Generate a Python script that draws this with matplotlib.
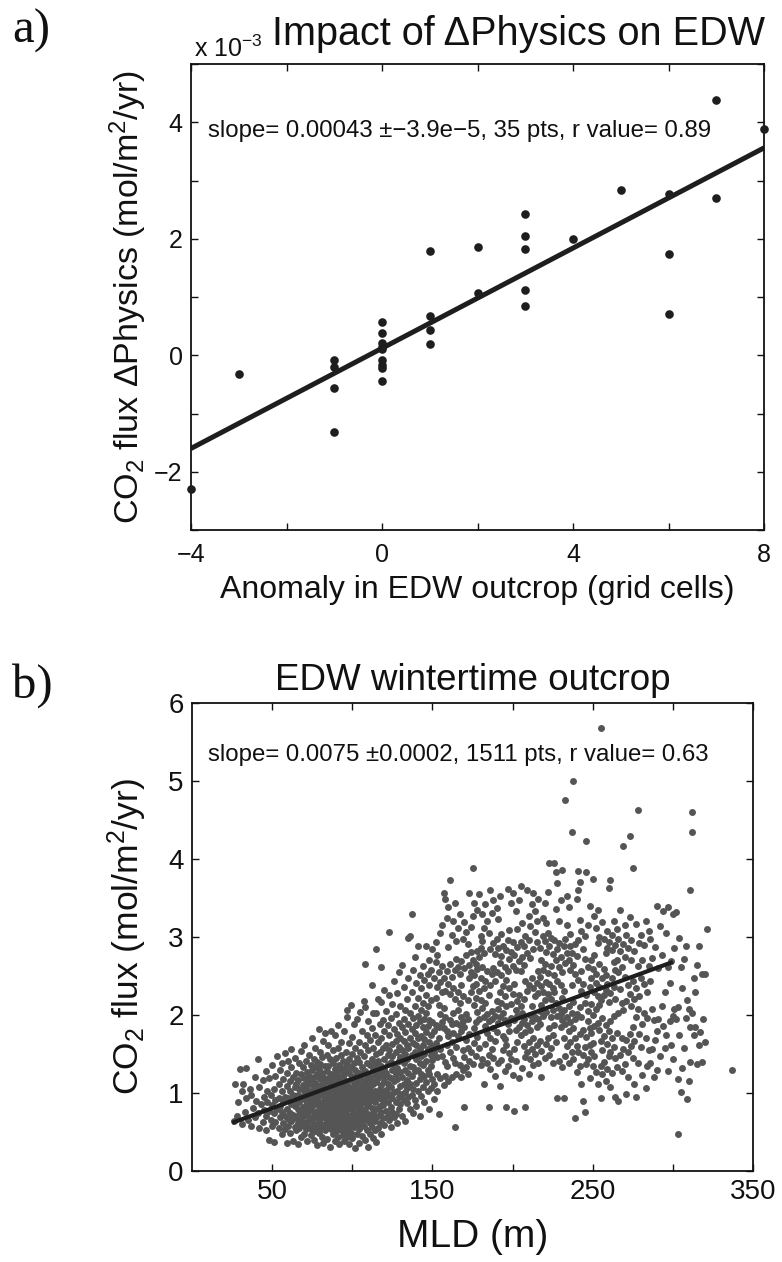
import numpy as np
import matplotlib
matplotlib.use("Agg")
import matplotlib.pyplot as plt

plt.rcParams['font.family'] = ['Liberation Sans', 'DejaVu Sans']
plt.rcParams['mathtext.fontset'] = 'custom'
plt.rcParams['mathtext.rm'] = 'Liberation Sans'
plt.rcParams['mathtext.it'] = 'Liberation Sans'
plt.rcParams['axes.unicode_minus'] = True

# ---------------- Panel a data (flux in units of 1e-3 mol/m2/yr) ----------------
outcrop_anom = [-4, -3,
                -1, -1, -1, -1,
                0, 0, 0, 0, 0, 0, 0, 0, 0,
                1, 1, 1, 1,
                2, 2,
                3, 3, 3, 3, 3,
                4, 5,
                6, 6, 6,
                7, 7,
                8]
phys_flux_e3 = [-2.30, -0.32,
                -0.09, -0.21, -0.57, -1.31,
                0.57, 0.38, 0.21, 0.15, 0.10, -0.09, -0.16, -0.22, -0.45,
                0.67, 0.44, 0.20, 1.79,
                1.85, 1.07,
                2.43, 2.05, 1.82, 1.12, 0.85,
                2.00, 2.83,
                2.77, 1.74, 0.71,
                4.38, 2.70,
                3.89]
fit_a_slope = 0.43      # per grid cell (x1e-3)
fit_a_icpt = 0.12
fit_a_xrange = [-4, 8]
text_a = "slope= 0.00043 \u00b1\u22123.9e\u22125, 35 pts, r value= 0.89"

# ---------------- Panel b data: rows of (MLD, [CO2 flux values]) ----------------
edw_rows = [
 (26,[0.64]),(27,[1.12]),(28,[0.71]),(29,[0.88]),(30,[1.31]),(31,[0.60,1.02]),(32,[1.12]),
 (33,[0.76]),(34,[1.32,0.93]),(35,[0.66]),(36,[1.05]),(37,[0.98,0.58]),(38,[0.81]),
 (39,[1.21,0.69]),(40,[0.90]),(41,[1.44,0.74]),(42,[0.55,1.08]),(43,[0.86]),(44,[1.17,0.63]),
 (45,[0.95,0.78]),(46,[1.28,0.71,0.52]),(47,[0.89,1.02]),(48,[0.40,1.19,0.77]),(49,[0.66,0.97]),
 (50,[1.36,0.84,0.58]),(51,[0.37,1.05,0.74]),(52,[1.22,0.91,0.63]),(53,[0.79,1.48]),
 (54,[0.55,1.11,0.94]),(55,[0.69,1.29,0.83]),(56,[1.02,0.47,0.76,1.38]),(57,[0.88,0.62,1.18]),
 (58,[1.51,0.71,0.95,0.54]),(59,[0.80,1.09,0.36,1.26]),(60,[0.67,1.41,0.93,0.58]),
 (61,[1.15,0.75,1.03,0.49]),(62,[0.86,1.33,0.64,1.57]),(63,[0.39,0.97,1.21,0.72]),
 (64,[1.08,0.57,0.83,1.45]),(65,[0.68,1.26,0.91,0.52,1.12]),(66,[0.34,0.79,1.17,0.98,0.61]),
 (67,[1.38,0.73,0.88,1.05,0.55]),(68,[0.95,1.54,0.66,1.24,0.44]),(69,[0.82,1.10,0.59,1.33,0.71]),
 (70,[1.62,0.92,0.48,1.19,0.77,1.02]),(71,[0.63,1.08,0.85,1.41,0.54,0.97]),
 (72,[0.38,1.27,0.74,0.90,1.15,0.62]),(73,[1.49,0.81,1.03,0.57,1.22,0.69]),
 (74,[0.95,0.46,1.36,0.78,1.11,0.87]),(75,[1.71,0.65,1.00,0.53,1.29,0.83,1.16]),
 (76,[0.72,1.44,0.91,0.40,1.06,0.60,1.21]),(77,[0.86,1.33,0.51,0.98,0.69,1.13,1.58]),
 (78,[0.33,0.77,1.25,0.94,0.58,1.40,1.04]),(79,[1.82,0.66,1.09,0.84,1.31,0.49,0.97]),
 (80,[0.73,1.18,0.55,1.52,0.89,1.02,0.62,1.37]),(81,[0.97,0.44,1.26,0.70,1.10,0.81,1.46]),
 (82,[0.59,1.03,1.67,0.86,0.36,1.21,0.74]),(83,[1.14,0.68,0.92,1.35,0.52,1.05,0.79,1.77]),
 (84,[0.88,1.28,0.63,0.41,1.00,1.49,0.75]),(85,[1.07,0.57,1.19,0.83,1.62,0.69,0.95,1.34]),
 (86,[0.31,0.78,1.12,0.91,1.43,0.61,1.03,0.72]),(87,[1.25,0.54,0.86,1.79,0.99,0.67,1.16]),
 (88,[0.74,1.38,0.47,1.06,0.82,1.55,0.93,0.60]),(89,[1.20,0.89,0.38,1.01,1.31,0.70,0.56,1.74]),
 (90,[0.97,0.65,1.45,0.80,1.13,0.51,1.27,0.88]),(91,[0.43,1.09,0.76,1.58,0.94,0.62,1.22,1.87]),
 (92,[0.84,1.36,0.58,1.04,0.71,1.17,0.34,0.96]),(93,[1.49,0.68,1.11,0.90,0.53,1.29,0.79,1.65]),
 (94,[0.62,1.00,1.41,0.46,0.85,1.19,0.73,1.06]),(95,[1.32,0.57,0.92,1.80,0.66,1.08,0.39,1.24,0.81]),
 (96,[0.75,1.15,0.50,1.53,0.98,0.63,1.28,0.87]),(97,[2.06,0.92,0.44,1.37,0.70,1.12,0.58,1.98,1.02]),
 (98,[0.81,1.26,0.55,1.64,0.96,0.67,1.43,0.35]),(99,[1.07,0.72,2.13,0.88,1.33,0.49,1.18,0.61]),
 (100,[0.94,1.50,0.64,1.03,0.79,1.72,0.42,1.21,0.86]),(101,[1.13,0.56,0.99,1.39,0.74,1.88,0.65]),
 (102,[0.30,0.83,1.30,0.60,1.08,1.58,0.91,1.22]),(103,[1.45,0.70,1.02,0.47,1.17,0.88,1.95,0.63]),
 (104,[0.78,1.26,0.54,1.66,0.95,1.11,0.36,1.40]),(105,[1.04,0.68,1.52,0.85,2.04,0.59,1.20,0.92]),
 (106,[0.45,1.33,0.76,1.10,0.97,1.79,0.64,1.24]),(107,[0.89,1.47,0.58,1.15,0.72,2.18,1.01]),
 (108,[2.65,0.80,1.28,0.40,1.06,1.61,0.93,2.10]),(109,[1.19,0.66,1.39,0.87,1.74,0.52,1.03]),
 (110,[0.73,1.55,0.98,0.31,1.25,0.84,1.92,1.12]),(111,[1.36,0.62,1.08,0.90,1.68,0.47,1.21]),
 (112,[0.81,2.38,1.00,1.44,0.69,1.16,0.57,1.83]),(113,[1.29,0.75,1.58,0.95,0.42,1.11,2.02]),
 (114,[0.88,1.37,0.64,1.23,1.02,1.74,0.53]),(115,[2.84,1.14,0.79,1.50,0.93,2.03,0.37,1.30]),
 (116,[0.70,1.19,1.66,0.98,0.55,1.41,2.21]),(117,[1.05,0.83,1.53,1.27,0.62,1.88,0.96]),
 (118,[2.62,0.92,1.35,1.10,0.76,1.71,0.48,2.17]),(119,[1.22,0.68,1.58,1.00,1.93,0.85]),
 (120,[1.43,0.90,1.16,0.59,1.79,1.31,2.32]),(121,[0.77,1.26,1.04,1.62,0.96,2.05]),
 (122,[1.49,0.71,1.12,1.87,0.88,1.37]),(123,[3.06,0.99,1.55,1.21,0.65,1.74,2.26]),
 (124,[1.08,1.40,0.82,1.96,1.19,0.56]),(125,[1.63,0.93,1.29,2.14,0.76,1.47]),
 (126,[1.15,0.69,1.82,1.01,1.36,2.43]),(127,[0.88,1.52,1.24,2.01,0.73,1.67]),
 (128,[1.32,1.03,1.76,0.62,2.28,1.18]),(129,[1.59,0.95,1.41,1.90,0.80,2.55]),
 (130,[1.09,1.27,2.12,0.86,1.71,1.46]),(131,[2.64,0.99,1.55,1.20,1.84,0.70]),
 (132,[1.38,1.12,2.36,0.91,1.67,1.95]),(133,[1.01,1.78,1.29,0.64,2.07,1.50]),
 (134,[1.62,0.87,1.43,2.21,1.17,1.06]),(135,[2.99,1.26,1.89,0.95,1.58,2.47]),
 (136,[3.01,1.11,1.71,0.79,1.35,2.03]),(137,[3.30,1.49,0.98,2.30,1.22,1.82]),
 (138,[1.33,1.64,1.05,2.58,0.74,1.96]),(139,[0.91,1.77,2.12,1.28,1.52,2.74]),
 (140,[1.44,1.13,2.41,0.83,1.87,1.62]),(141,[1.99,1.30,1.03,2.22,1.70,2.88]),
 (142,[1.18,1.56,0.70,2.51,1.92,1.38]),(143,[2.07,1.25,1.73,0.96,2.34,1.47]),
 (144,[1.61,2.63,1.08,1.84,1.36,2.16]),(145,[1.22,1.95,1.50,0.88,2.45,1.69]),
 (146,[2.88,1.41,1.78,1.14,2.26,2.02]),(147,[1.57,1.03,2.53,1.86,1.29,2.11]),
 (148,[1.93,1.24,0.79,2.38,1.65,2.71]),(149,[1.35,2.19,1.74,1.06,2.58,1.49]),
 (150,[1.60,1.18,2.85,1.91,1.42]),(151,[1.12,1.53,2.47,1.79,0.92]),
 (152,[1.87,2.68,2.22,1.64,2.94]),(153,[1.46,1.02,2.36,2.77,1.25]),
 (154,[0.73,2.13,1.70,2.55,1.85]),(155,[2.42,1.56,3.05,1.19,2.01]),
 (156,[2.63,1.91,1.48,2.29,3.16]),(157,[3.57,2.09,1.10,2.48,1.83]),
 (158,[3.49,1.40,1.97,2.31,1.22]),(159,[1.80,2.56,1.34,3.25,1.61]),
 (160,[2.40,1.15,2.87,1.73,3.38]),(161,[3.73,1.52,2.27,1.94,2.66]),
 (162,[1.66,3.02,2.49,1.20,1.88]),(163,[1.45,2.35,1.77,3.21,2.02]),
 (164,[0.56,2.58,1.38,2.21,3.44]),(165,[1.90,2.95,1.59,1.25,2.72]),
 (166,[2.30,1.73,3.11,2.07,2.62]),(167,[1.36,2.52,1.87,3.30,2.16]),
 (168,[1.97,2.39,1.21,2.69,1.79]),(169,[1.55,2.24,1.92,2.97,1.30]),
 (170,[2.60,1.84,3.19,1.46,0.82]),(171,[1.68,2.77,1.33,3.06,2.01]),
 (172,[2.19,1.58,2.91,1.95,1.25]),(173,[3.57,2.47,1.76,2.64,1.41]),
 (174,[2.29,3.13,1.52,2.81,2.55]),(175,[3.88,2.70,1.37,2.37,3.27]),
 (176,[2.13,1.64,2.51,1.83,3.44]),(177,[1.47,2.66,2.22,1.91,2.40]),
 (178,[2.82,1.72,3.35,2.04,2.59]),(179,[3.55,2.31,1.58,2.75,1.95]),
 (180,[2.48,3.01,1.36,2.19,2.86]),(181,[2.62,3.29,2.09,1.44,2.95]),
 (182,[1.97,2.79,3.12,2.35,1.11]),(183,[2.43,3.42,1.86,1.63,2.16]),
 (184,[1.39,2.57,3.20,2.01,1.77]),(185,[0.82,2.26,1.92,3.05,1.49]),
 (186,[3.60,2.84,1.70,2.39,1.31]),(187,[1.95,3.31,1.56,2.53,2.05]),
 (188,[2.92,1.45,3.48,1.83,2.60]),(189,[1.67,2.44,1.99,2.78,1.22]),
 (190,[2.55,3.37,1.78,2.18,2.97]),(191,[2.08,1.38,2.86,3.23,1.90]),
 (192,[2.67,2.29,3.52,1.97,1.09]),(193,[3.04,2.51,1.42,2.76,2.15]),
 (194,[2.37,1.73,2.02,2.89,1.55]),(195,[1.28,2.61,1.94,2.25,1.69]),
 (196,[0.82,2.83,2.11,1.62,2.45]),(197,[3.62,1.88,2.56,1.35,2.96]),
 (198,[2.72,1.51,3.09,2.34,1.79]),(199,[1.44,3.44,1.96,2.81,2.14]),
 (200,[3.56,2.27,2.93,1.23,2.63]),(201,[0.77,1.93,2.40,1.57,2.77]),
 (202,[2.58,1.81,3.33,2.06,1.41]),(203,[2.18,1.66,2.87,3.10,1.99]),
 (204,[2.69,2.26,3.47,1.84,1.19]),(205,[3.65,1.74,2.94,2.11,2.57]),
 (206,[1.90,3.18,1.32,2.75,2.03]),(207,[2.64,1.60,2.21,1.95,2.88]),
 (208,[0.82,2.44,3.01,1.78,1.46]),(209,[3.60,2.31,1.87,2.80,1.53]),
 (210,[2.96,1.65,3.27,2.38,1.25]),(211,[1.81,3.14,2.00,2.73,1.43]),
 (212,[2.47,1.56,3.42,2.12,1.92]),(213,[3.56,1.71,2.35,1.36,2.84]),
 (214,[2.24,3.06,1.98,1.50,3.33]),(215,[1.62,2.41,2.93,1.84,3.20]),
 (216,[1.38,2.28,3.49,1.95,2.56]),(217,[1.88,2.49,1.67,2.86,2.05]),
 (218,[2.37,1.54,2.13,2.71,1.21]),(219,[3.01,1.99,2.58,3.24,2.30]),
 (220,[1.45,2.66,2.19,3.43,2.95]),(221,[2.42,3.18,1.63,2.81,2.04]),
 (222,[2.54,3.05,2.27,1.71,3.58]),(223,[3.95,1.49,2.89,2.40,1.83]),
 (224,[2.63,1.97,1.58,2.20,2.99]),(225,[1.74,2.35,2.78,1.39,2.07]),
 (226,[3.95,2.51,1.87,2.96,2.29]),(227,[3.83,2.16,3.36,1.66,2.70]),
 (228,[2.84,2.43,3.69,1.99,0.94]),(229,[2.62,3.21,2.09,2.92,1.41]),
 (230,[2.01,3.47,2.38,2.75,1.85]),(231,[3.86,2.55,1.94,2.22,1.33]),
 (232,[0.94,2.31,2.88,1.70,2.06]),(233,[4.76,1.89,2.67,1.48,2.97]),
 (234,[3.15,1.60,2.80,1.97,3.52]),(235,[1.79,3.38,2.12,1.38,2.70]),
 (236,[2.88,1.66,3.04,1.91,2.58]),(237,[4.34,2.39,1.52,2.03,2.79]),
 (238,[5.00,1.83,2.64,2.17,1.44]),(239,[0.68,2.53,1.95,2.91,1.70]),
 (240,[3.49,1.60,2.76,2.01,1.27]),(241,[3.84,3.60,2.45,1.53,2.96]),
 (242,[3.71,2.10,1.76,3.22,1.35]),(243,[2.57,1.98,3.08,2.31,1.12]),
 (244,[0.90,2.84,1.81,2.40,1.49]),(245,[0.76,2.16,2.72,1.59,3.01]),
 (246,[4.23,3.83,1.72,2.26,1.37]),(247,[1.92,1.44,3.16,2.05,2.61]),
 (248,[2.36,1.61,1.83,3.40,1.19]),(249,[1.53,2.71,2.14,1.77,2.47]),
 (250,[3.74,2.00,1.35,2.59,1.64]),(251,[2.29,1.86,3.27,1.48,2.77]),
 (252,[2.53,2.08,3.11,1.27,2.41]),(253,[2.92,2.24,1.90,3.35,1.11]),
 (254,[2.13,2.66,3.00,1.81,2.36]),(255,[5.68,0.93,1.67,2.19,1.34]),
 (256,[1.96,2.48,3.19,1.55,1.24]),(257,[2.59,1.73,2.97,2.26,1.40]),
 (258,[2.32,1.87,2.80,1.16,2.51]),(259,[2.86,3.08,1.63,2.40,1.31]),
 (260,[3.63,1.79,2.17,1.47,2.93]),(261,[3.73,2.28,1.53,1.92,1.08]),
 (262,[1.70,2.47,3.02,1.26,2.83]),(263,[2.36,1.59,2.68,1.99,3.21]),
 (264,[2.90,1.45,2.21,2.58,0.95]),(265,[2.70,1.33,3.10,1.77]),
 (266,[0.90,2.02,2.55,2.97]),(267,[2.33,1.49,2.82,3.34]),(268,[1.71,2.62,2.15,1.28]),
 (269,[4.17,2.06,2.91,1.56]),(270,[1.37,2.49,3.15,2.75]),(271,[0.99,2.18,1.68,3.02]),
 (272,[2.86,1.52,2.39,1.21]),(273,[4.29,2.27,1.76,3.26]),(274,[1.60,2.96,2.11,2.70]),
 (275,[3.88,2.43,1.85,1.45]),(276,[2.20,1.67,2.82,1.12]),(277,[0.95,2.35,3.17,1.97]),
 (278,[4.63,2.63,1.39,2.08]),(279,[1.76,2.92,2.24]),(280,[2.48,1.59,3.02]),
 (281,[1.23,2.71,1.88]),(282,[2.02,2.40,2.90]),(283,[3.21,1.71,1.06]),
 (284,[2.30,1.96,1.35]),(285,[1.55,2.63,3.08]),(286,[1.39,2.44,2.97]),
 (287,[2.73,2.08,1.57]),(288,[1.94,1.20]),(289,[2.87,1.68]),(290,[1.30,3.40,1.79]),
 (291,[2.60,1.95]),(292,[1.48,3.14]),(293,[2.12,2.77]),(294,[3.33,1.86]),
 (295,[2.29,1.58]),(296,[1.74,3.05]),(297,[1.28,2.62,3.39]),(298,[2.41,1.92]),
 (299,[2.69,1.61]),(300,[3.30,1.99,1.43]),(301,[2.86,2.08]),(302,[1.95,3.32]),
 (303,[0.47,1.18,2.10]),(304,[1.74,2.99]),(305,[1.01,2.61]),(306,[1.32,2.35]),
 (307,[2.72,1.58]),(308,[1.96,2.88]),(309,[0.92,2.19]),(310,[1.16,2.08]),
 (311,[3.60,1.85,1.40]),(312,[4.60,4.35,2.02]),(313,[1.74,2.48]),(314,[1.85,2.29]),
 (315,[1.37,2.64]),(316,[2.88,1.62]),(317,[1.78]),(318,[1.40,2.52]),(319,[1.95]),
 (320,[2.53,1.66]),(321,[3.10]),(337,[1.29]),
]
fit_b_slope = 0.0075
fit_b_icpt = 0.43
fit_b_xrange = [25, 300]
text_b = "slope= 0.0075 \u00b10.0002, 1511 pts, r value= 0.63"

mld = np.array([m for m, ys in edw_rows for _ in ys], dtype=float)
co2_flux = np.array([y for m, ys in edw_rows for y in ys], dtype=float)

W, H = 782, 1262
fig = plt.figure(figsize=(W / 100, H / 100), dpi=100)

def frac(l, t, r, b):
    return [l / W, 1 - b / H, (r - l) / W, (b - t) / H]

def style_axes(ax, lab_size):
    for s in ax.spines.values():
        s.set_linewidth(1.3)
        s.set_color('#111111')
    ax.tick_params(direction='in', top=True, right=True, length=5, width=1.0,
                   labelsize=lab_size, colors='#111111', pad=6)

# ---------- panel a ----------
axA = fig.add_axes(frac(191, 64, 764, 530))
axA.plot(outcrop_anom, phys_flux_e3, 'o', color='#1e1e1e', markersize=6.2,
         markeredgewidth=0, clip_on=False, zorder=3)
xa = np.array(fit_a_xrange, dtype=float)
axA.plot(xa, fit_a_icpt + fit_a_slope * xa, '-', color='#1e1e1e', lw=3.6,
         solid_capstyle='butt', zorder=2)
axA.set_xlim(-4, 8)
axA.set_ylim(-3, 5)
axA.set_xticks(np.arange(-4, 9, 2))
axA.set_xticklabels(['\u22124', '', '0', '', '4', '', '8'])
axA.set_yticks(np.arange(-3, 6, 1))
axA.set_yticklabels(['', '\u22122', '', '0', '', '2', '', '4', ''])
style_axes(axA, 18)
axA.tick_params(axis='x', pad=9)
axA.text(-3.64, 3.85, text_a, fontsize=17.3, va='center', ha='left', color='#111111')
axA.text(0.005, 1.004, 'x 10$^{\\mathregular{-3}}$', transform=axA.transAxes,
         fontsize=18, ha='left', va='bottom', color='#111111')
fig.text(518 / W, 1 - 45 / H, 'Impact of \u0394Physics on EDW',
         fontsize=28.5, ha='center', va='baseline', color='#111111')
axA.text(-0.110, 0.5, 'CO$_{\\mathregular{2}}$ flux \u0394Physics (mol/m$^{\\mathregular{2}}$/yr)',
         transform=axA.transAxes, rotation=90, fontsize=24.5, ha='center', va='center',
         color='#111111')
axA.text(0.5, -0.128, 'Anomaly in EDW outcrop (grid cells)', transform=axA.transAxes,
         fontsize=23, ha='center', va='center', color='#111111')
fig.text(12 / W, 1 - 43 / H, 'a)', family=['Liberation Serif'], fontsize=35,
         ha='left', va='baseline', color='#111111')

# ---------- panel b ----------
axB = fig.add_axes(frac(192, 703, 753, 1171))
axB.plot(mld, co2_flux, 'o', color='#555555', markersize=5.0, markeredgewidth=0,
         zorder=2)
xb = np.array(fit_b_xrange, dtype=float)
axB.plot(xb, fit_b_icpt + fit_b_slope * xb, '-', color='#1e1e1e', lw=3.0,
         solid_capstyle='butt', zorder=3)
axB.set_xlim(0, 350)
axB.set_ylim(0, 6)
axB.set_xticks(np.arange(50, 351, 50))
axB.set_xticklabels(['50', '', '150', '', '250', '', '350'])
axB.set_yticks(np.arange(0, 7, 1))
style_axes(axB, 20)
axB.text(10, 5.33, text_b, fontsize=17.3, va='center', ha='left', color='#111111')
axB.set_title('EDW wintertime outcrop', fontsize=26.5, pad=9, color='#111111')
axB.text(-0.116, 0.5, 'CO$_{\\mathregular{2}}$ flux (mol/m$^{\\mathregular{2}}$/yr)',
         transform=axB.transAxes, rotation=90, fontsize=25.5, ha='center', va='center',
         color='#111111')
axB.set_xlabel('MLD (m)', fontsize=28, labelpad=10, color='#111111')
fig.text(12 / W, 1 - 698 / H, 'b)', family=['Liberation Serif'], fontsize=35,
         ha='left', va='baseline', color='#111111')

fig.savefig('out.png', dpi=100, facecolor='white')
